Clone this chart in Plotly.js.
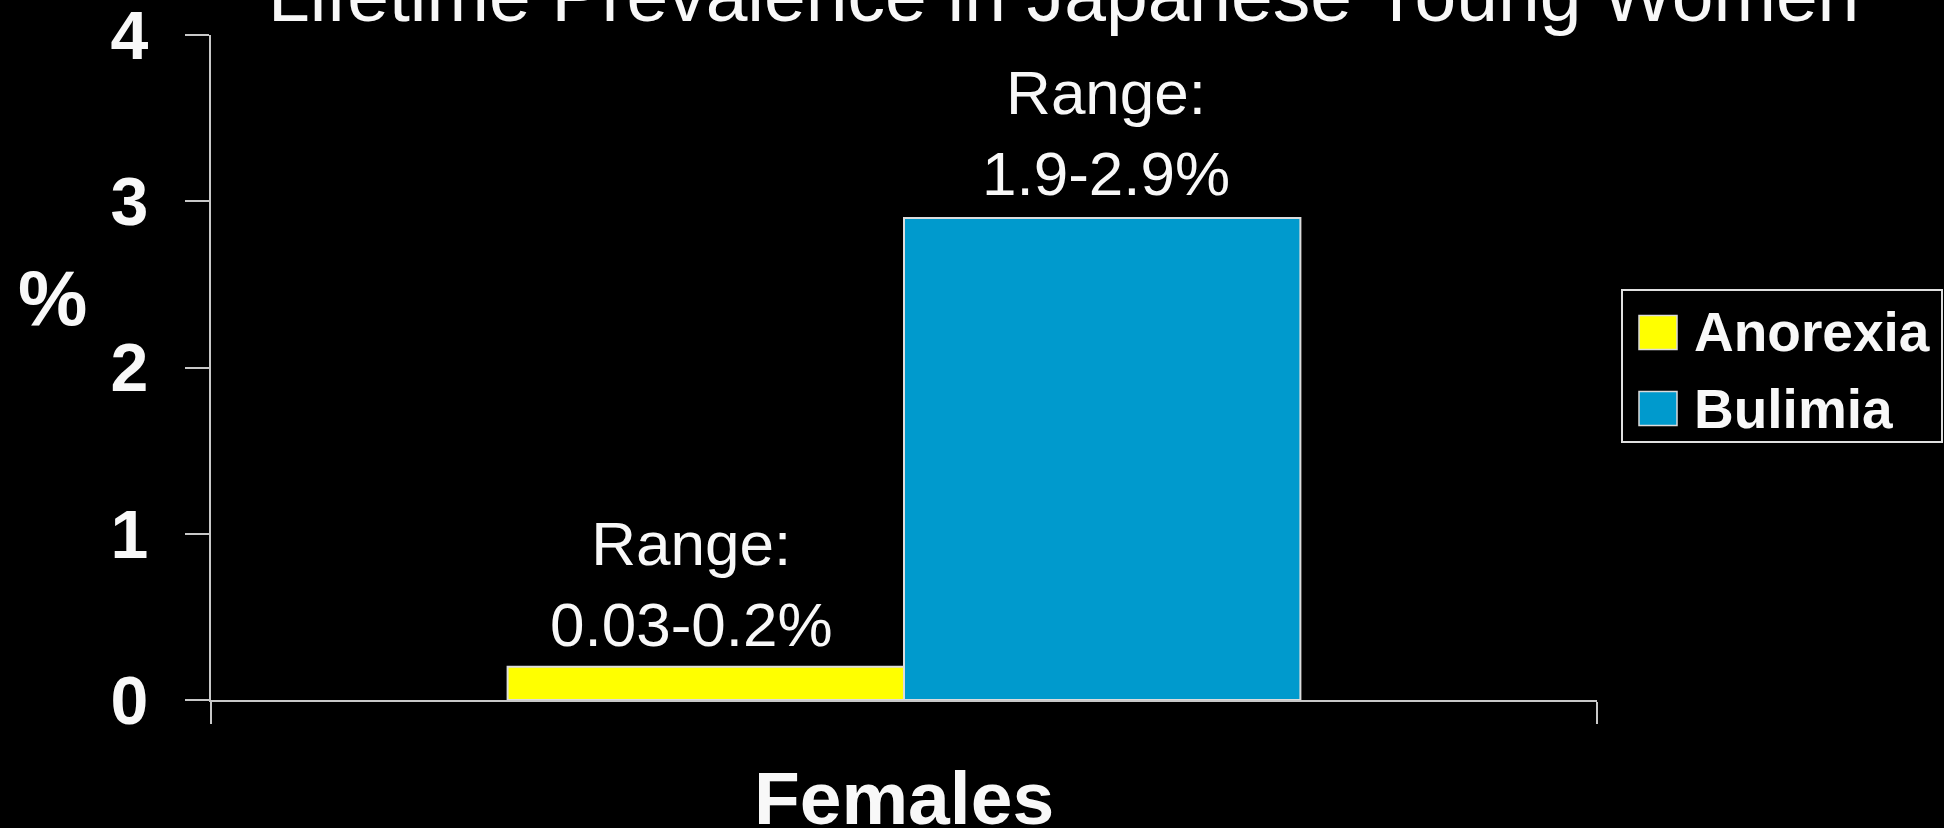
<!DOCTYPE html>
<html>
<head>
<meta charset="utf-8">
<script src="https://cdn.plot.ly/plotly-3.0.1.min.js"></script>
<style>
  html, body { margin: 0; padding: 0; background: #000; }
  #chart { width: 1944px; height: 828px; }
</style>
</head>
<body>
<div id="chart"></div>
<script>
// Lifetime prevalence (%) of eating disorders among young Japanese women
const categories = ['Females'];
const seriesNames = ['Anorexia', 'Bulimia'];
const rangeLow = [0.03, 1.9];
const rangeHigh = [0.2, 2.9];
const seriesColors = ['#ffff00', '#009acd'];
const yTicks = [0, 1, 2, 3, 4];

const W = 1944, H = 828;
const margin = { l: 211, r: 347, t: 35, b: 128, pad: 0 };
const plotW = W - margin.l - margin.r;
const plotH = H - margin.t - margin.b;
// pixel -> paper helpers for items placed outside the plotting area
const px = x => (x - margin.l) / plotW;
const py = y => (H - margin.b - y) / plotH;

const FONT = '"Liberation Sans", Arial, Helvetica, sans-serif';
const TEXT = '#f8f8f8';
const AXIS = '#c8c8c8';
const bargap = 0.428;

const traces = seriesNames.map((name, i) => ({
  type: 'bar',
  name: name,
  x: categories,
  y: [rangeHigh[i]],
  marker: { color: seriesColors[i], line: { color: '#dcdcdc', width: 2 } },
  hoverinfo: 'skip'
}));

// bar centres inside the group, in category units
const groupW = 1 - bargap;
const barCentre = i => -groupW / 2 + groupW / seriesNames.length * (i + 0.5);

const annotations = [];

// range labels above each bar
seriesNames.forEach((name, i) => {
  annotations.push({
    x: barCentre(i), y: rangeHigh[i], xref: 'x', yref: 'y',
    text: 'Range:<br>' + rangeLow[i] + '-' + rangeHigh[i] + '%',
    showarrow: false, xanchor: 'center', yanchor: 'bottom',
    xshift: i === 0 ? -14 : 4, yshift: i === 0 ? 6 : 8,
    font: { family: FONT, size: 62, color: TEXT }
  });
});

// chart title (partly above the top edge)
annotations.push({
  x: px(1063), y: py(-5), xref: 'paper', yref: 'paper',
  text: 'Lifetime Prevalence in Japanese Young Women',
  showarrow: false, xanchor: 'center', yanchor: 'middle',
  font: { family: FONT, size: 75, color: TEXT }
});

// y axis unit
annotations.push({
  x: px(52), y: py(298), xref: 'paper', yref: 'paper',
  text: '%', showarrow: false, xanchor: 'center', yanchor: 'middle',
  font: { family: FONT, size: 78, color: TEXT, weight: 'bold' }
});

// legend: framed box with square swatches
const shapes = [{
  type: 'rect', xref: 'paper', yref: 'paper',
  x0: px(1622), x1: px(1942), y0: py(442), y1: py(290),
  line: { color: '#e0e0e0', width: 2 }, fillcolor: 'rgba(0,0,0,0)'
}];
const rowCentres = [332.5, 408.5];
seriesNames.forEach((name, i) => {
  const c = rowCentres[i];
  shapes.push({
    type: 'rect', xref: 'paper', yref: 'paper',
    x0: px(1639), x1: px(1677), y0: py(c + 17), y1: py(c - 17),
    line: { color: '#dcdcdc', width: 1.5 }, fillcolor: seriesColors[i]
  });
  annotations.push({
    x: px(1692), y: py(c), xref: 'paper', yref: 'paper',
    text: name, showarrow: false, xanchor: 'left', yanchor: 'middle',
    font: { family: FONT, size: 55, color: TEXT, weight: 'bold' }
  });
});

const layout = {
  width: W, height: H,
  margin: margin,
  paper_bgcolor: '#000000',
  plot_bgcolor: '#000000',
  showlegend: false,
  barmode: 'group',
  bargap: bargap,
  bargroupgap: 0,
  font: { family: FONT, color: TEXT },
  xaxis: {
    type: 'category',
    range: [-0.5, 0.5],
    showline: true, linecolor: AXIS, linewidth: 2,
    ticks: 'outside', tickson: 'boundaries', ticklen: 22, tickwidth: 2, tickcolor: AXIS,
    showgrid: false, zeroline: false,
    tickfont: { family: FONT, size: 75, color: TEXT, weight: 'bold' },
    ticklabelstandoff: 32,
    ticklabeloverflow: 'allow',
    fixedrange: true
  },
  yaxis: {
    range: [0, 4],
    tickvals: yTicks,
    ticktext: yTicks.map(String),
    showline: true, linecolor: AXIS, linewidth: 2,
    ticks: 'outside', ticklen: 24, tickwidth: 2, tickcolor: AXIS,
    showgrid: false, zeroline: false,
    tickfont: { family: FONT, size: 68, color: TEXT, weight: 'bold' },
    ticklabelstandoff: 23,
    ticklabeloverflow: 'allow',
    fixedrange: true
  },
  annotations: annotations,
  shapes: shapes
};

Plotly.newPlot('chart', traces, layout, { displayModeBar: false, staticPlot: true });
</script>
</body>
</html>
